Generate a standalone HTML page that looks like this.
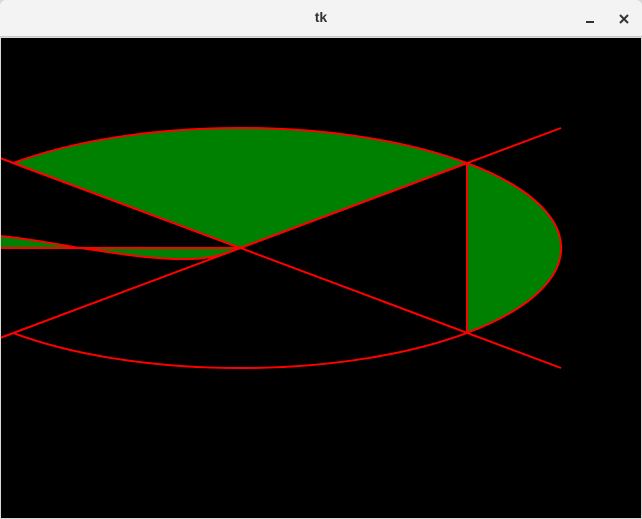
<!DOCTYPE html>
<html><head><meta charset="utf-8"><style>
html,body{margin:0;padding:0;width:642px;height:519px;overflow:hidden;background:#d8d8d8;font-family:"Liberation Sans",sans-serif}
#title{position:absolute;left:0;top:0;width:642px;height:36px;background:#f3f3f3;border-bottom:1px solid #c8c8c8;border-radius:6px 6px 0 0}
#title span{position:absolute;left:0;width:642px;top:9px;text-align:center;font-size:14px;font-weight:bold;color:#333}
#canvas{position:absolute;left:1px;top:38px}
</style></head><body>
<div id="title"><span>tk</span>
<svg style="position:absolute;left:580px;top:12px" width="50" height="14">
<rect x="6" y="9" width="8" height="2" fill="#333"/>
<path d="M40 3 L48 11 M48 3 L40 11" stroke="#333" stroke-width="2"/>
</svg></div>
<svg id="canvas" width="640" height="480">
<rect width="640" height="480" fill="#000"/>
<g transform="translate(-1,-38)" stroke="#ff0000" stroke-width="2">
<path d="M240,248 L13,163.1 A321,120 0 0 1 467,163.1 Z" fill="#008000"/>
<path d="M467,163.1 A321,120 0 0 1 467,332.9 Z" fill="#008000"/>
<path d="M13,332.9 A321,120 0 0 0 467,332.9" fill="none"/>
<path d="M0,248 L240,248 C220,257 200,260 175,259 C140,258 110,252 80,248 C50,243 25,238 0,236 Z" fill="#008000"/>
<line x1="0" y1="158" x2="561" y2="368"/>
<line x1="0" y1="338" x2="561" y2="128"/>
</g>
</svg>
</body></html>
